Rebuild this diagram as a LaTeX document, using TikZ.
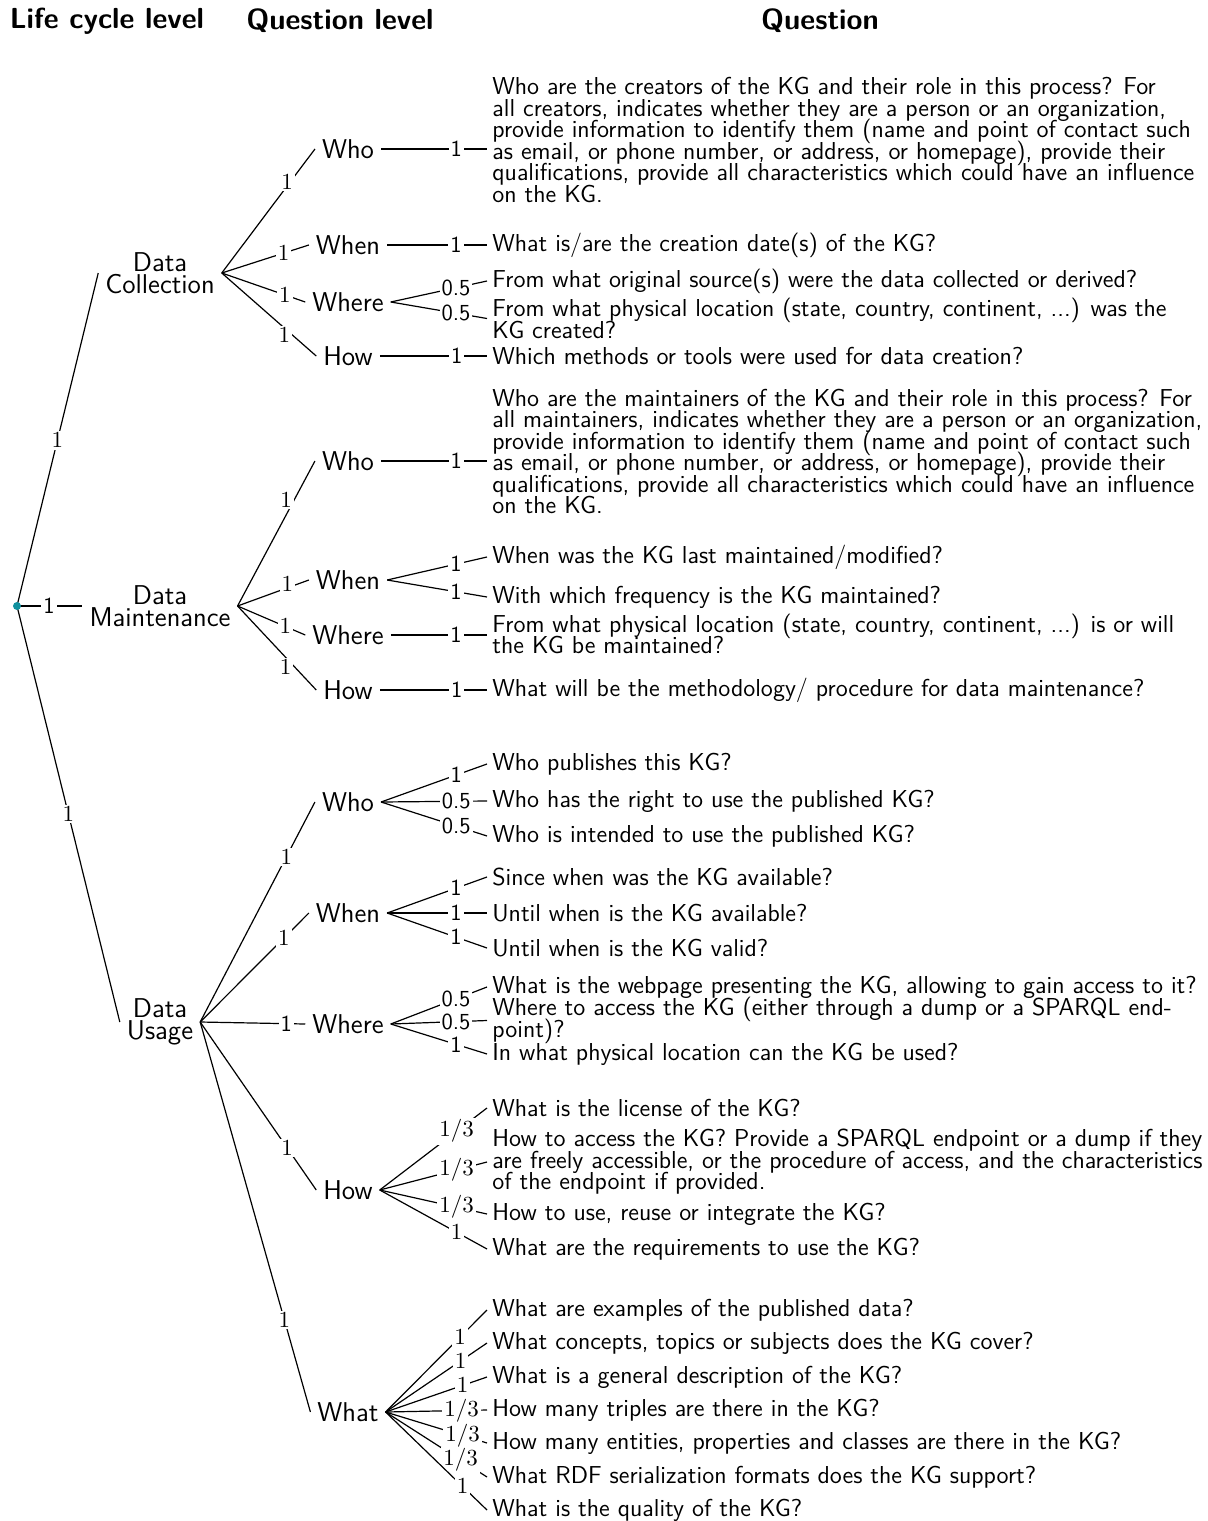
\RequirePackage{fix-cm}
\documentclass[tikz,border=0pt]{standalone}
\usepackage{tikz}
\definecolor{rootdot}{RGB}{17,145,158}
% allow lines to sit closer than their natural height and depth
\newcommand\tightlines{\lineskiplimit=-20pt\relax\lineskip=0pt\relax}
\tikzset{
  hdr/.style={font=\fontsize{14.5}{17}\selectfont\sffamily\bfseries},
  lev/.style={font=\fontsize{13.6}{11}\selectfont\sffamily\tightlines, align=center},
  qst/.style={font=\fontsize{12.25}{10.75}\selectfont\sffamily\tightlines, align=left, anchor=west, inner sep=2.5pt},
  lab/.style={font=\fontsize{11.5}{12}\selectfont\sffamily, fill=white, inner sep=1pt},
  link/.style={line width=0.6pt},
}
\begin{document}
\begin{tikzpicture}[x=0.5pt, y=-0.5pt]
\useasboundingbox (0,0) rectangle (1207,1521);

% column headings
\node[hdr] (h1) at (107,21) {Life cycle level};
\node[hdr] (h2) at (340,21) {Question level};
\node[hdr] (h3) at (820,21) {Question};

% root and life cycle levels
\coordinate (root) at (17,606);
\node[lev] (dc) at (160,273) {Data\\Collection};
\node[lev] (dm) at (160,606) {Data\\Maintenance};
\node[lev] (du) at (160,1022) {Data\\Usage};

\draw[link] (root) -- node[lab,pos=0.497]{$1$} (dc.west);
\draw[link] (root) -- node[lab,pos=0.49]{1} (dm.west);
\draw[link] (root) -- node[lab,pos=0.5]{$1$} (du.west);
\fill[rootdot] (root) circle (2pt);

% question levels
\node[lev] (cwho) at (348,149) {Who};
\node[lev] (cwhen) at (348,245) {When};
\node[lev] (cwhere) at (348,302) {Where};
\node[lev] (chow) at (348,356) {How};

\node[lev] (mwho) at (348,461) {Who};
\node[lev] (mwhen) at (348,580) {When};
\node[lev] (mwhere) at (348,635) {Where};
\node[lev] (mhow) at (348,690) {How};

\node[lev] (uwho) at (348,802) {Who};
\node[lev] (uwhen) at (348,913) {When};
\node[lev] (uwhere) at (348,1024) {Where};
\node[lev] (uhow) at (348,1190) {How};
\node[lev] (uwhat) at (348,1412) {What};

\draw[link] (dc.east) -- node[lab,pos=0.734,xshift=-1.5pt]{$1$} (cwho.west);
\draw[link] (dc.east) -- node[lab,pos=0.71]{$1$} (cwhen.west);
\draw[link] (dc.east) -- node[lab,pos=0.756]{$1$} (cwhere.west);
\draw[link] (dc.east) -- node[lab,pos=0.747,xshift=-4pt]{$1$} (chow.west);

\draw[link] (dm.east) -- node[lab,pos=0.731,xshift=-4pt]{$1$} (mwho.west);
\draw[link] (dm.east) -- node[lab,pos=0.7,yshift=2pt]{$1$} (mwhen.west);
\draw[link] (dm.east) -- node[lab,pos=0.705]{$1$} (mwhere.west);
\draw[link] (dm.east) -- node[lab,pos=0.726,xshift=-4.5pt]{$1$} (mhow.west);

\draw[link] (du.east) -- node[lab,pos=0.75]{$1$} (uwho.west);
\draw[link] (du.east) -- node[lab,pos=0.77]{$1$} (uwhen.west);
\draw[link] (du.east) -- node[lab,pos=0.82]{1} (uwhere.west);
\draw[link] (du.east) -- node[lab,pos=0.75]{$1$} (uhow.west);
\draw[link] (du.east) -- node[lab,pos=0.764]{$1$} (uwhat.west);

% questions: data collection
\node[qst] (q1) at (487,140) {Who are the creators of the KG and their role in this process? For\\
all creators, indicates whether they are a person or an organization,\\
provide information to identify them (name and point of contact such\\
as email, or phone number, or address, or homepage), provide their\\
qualifications, provide all characteristics which could have an influence\\
on the KG.};
\node[qst] (q2) at (487,245) {What is/are the creation date(s) of the KG?};
\node[qst] (q3) at (487,281) {From what original source(s) were the data collected or derived?};
\node[qst] (q4) at (487,318.5) {From what physical location (state, country, continent, ...) was the\\KG created?};
\node[qst] (q5) at (487,356) {Which methods or tools were used for data creation?};

% questions: data maintenance
\node[qst] (q6) at (487,451.5) {Who are the maintainers of the KG and their role in this process? For\\
all maintainers, indicates whether they are a person or an organization,\\
provide information to identify them (name and point of contact such\\
as email, or phone number, or address, or homepage), provide their\\
qualifications, provide all characteristics which could have an influence\\
on the KG.};
\node[qst] (q7) at (487,557) {When was the KG last maintained/modified?};
\node[qst] (q8) at (487,597) {With which frequency is the KG maintained?};
\node[qst] (q9) at (487,634) {From what physical location (state, country, continent, ...) is or will\\the KG be maintained?};
\node[qst] (q10) at (487,690) {What will be the methodology/ procedure for data maintenance?};

% questions: data usage
\node[qst] (q11) at (487,764) {Who publishes this KG?};
\node[qst] (q12) at (487,801) {Who has the right to use the published KG?};
\node[qst] (q13) at (487,836) {Who is intended to use the published KG?};
\node[qst] (q14) at (487,877) {Since when was the KG available?};
\node[qst] (q15) at (487,913) {Until when is the KG available?};
\node[qst] (q16) at (487,948) {Until when is the KG valid?};
\node[qst] (q17) at (487,987) {What is the webpage presenting the KG, allowing to gain access to it?};
\node[qst] (q18) at (487,1020.5) {Where to access the KG (either through a dump or a SPARQL end-\\point)?};
\node[qst] (q19) at (487,1054) {In what physical location can the KG be used?};
\node[qst] (q20) at (487,1108) {What is the license of the KG?};
\node[qst] (q21) at (487,1162) {How to access the KG? Provide a SPARQL endpoint or a dump if they\\
are freely accessible, or the procedure of access, and the characteristics\\
of the endpoint if provided.};
\node[qst] (q22) at (487,1214) {How to use, reuse or integrate the KG?};
\node[qst] (q23) at (487,1249) {What are the requirements to use the KG?};
\node[qst] (q24) at (487,1310) {What are examples of the published data?};
\node[qst] (q25) at (487,1343) {What concepts, topics or subjects does the KG cover?};
\node[qst] (q26) at (487,1377) {What is a general description of the KG?};
\node[qst] (q27) at (487,1410) {How many triples are there in the KG?};
\node[qst] (q28) at (487,1443) {How many entities, properties and classes are there in the KG?};
\node[qst] (q29) at (487,1477) {What RDF serialization formats does the KG support?};
\node[qst] (q30) at (487,1510) {What is the quality of the KG?};

% links from question levels to questions
\draw[link] (cwho.east) -- node[lab,pos=0.709]{1} (cwho.east -| q1.west);
\draw[link] (cwhen.east) -- node[lab,pos=0.69]{1} (cwhen.east -| q2.west);
\draw[link] (cwhere.east) -- node[lab,pos=0.677]{0.5} (q3.west);
\draw[link] (cwhere.east) -- node[lab,pos=0.677]{0.5} (q4.west);
\draw[link] (chow.east) -- node[lab,pos=0.717]{1} (chow.east -| q5.west);

\draw[link] (mwho.east) -- node[lab,pos=0.709]{1} (mwho.east -| q6.west);
\draw[link] (mwhen.east) -- node[lab,pos=0.69]{1} (q7.west);
\draw[link] (mwhen.east) -- node[lab,pos=0.69]{1} (q8.west);
\draw[link] (mwhere.east) -- node[lab,pos=0.677]{1} (mwhere.east -| q9.west);
\draw[link] (mhow.east) -- node[lab,pos=0.717]{1} (mhow.east -| q10.west);

\draw[link] (uwho.east) -- node[lab,pos=0.709]{1} (q11.west);
\draw[link] (uwho.east) -- node[lab,pos=0.709]{0.5} (q12.west);
\draw[link] (uwho.east) -- node[lab,pos=0.709]{0.5} (q13.west);
\draw[link] (uwhen.east) -- node[lab,pos=0.69]{1} (q14.west);
\draw[link] (uwhen.east) -- node[lab,pos=0.69]{1} (q15.west);
\draw[link] (uwhen.east) -- node[lab,pos=0.69]{1} (q16.west);
\draw[link] (uwhere.east) -- node[lab,pos=0.677]{0.5} (q17.west);
\draw[link] (uwhere.east) -- node[lab,pos=0.677]{0.5} (q18.west);
\draw[link] (uwhere.east) -- node[lab,pos=0.677]{1} (q19.west);
\draw[link] (uhow.east) -- node[lab,pos=0.717]{$1/3$} (q20.west);
\draw[link] (uhow.east) -- node[lab,pos=0.717]{$1/3$} (q21.west);
\draw[link] (uhow.east) -- node[lab,pos=0.717]{$1/3$} (q22.west);
\draw[link] (uhow.east) -- node[lab,pos=0.717]{$1$} (q23.west);
\draw[link] (uwhat.east) -- node[lab,pos=0.735]{$1$} (q24.west);
\draw[link] (uwhat.east) -- node[lab,pos=0.74]{$1$} (q25.west);
\draw[link] (uwhat.east) -- node[lab,pos=0.76]{$1$} (q26.west);
\draw[link] (uwhat.east) -- node[lab,pos=0.75]{$1/3$} (q27.west);
\draw[link] (uwhat.east) -- node[lab,pos=0.76]{$1/3$} (q28.west);
\draw[link] (uwhat.east) -- node[lab,pos=0.74]{$1/3$} (q29.west);
\draw[link] (uwhat.east) -- node[lab,pos=0.76]{$1$} (q30.west);
\end{tikzpicture}
\end{document}
